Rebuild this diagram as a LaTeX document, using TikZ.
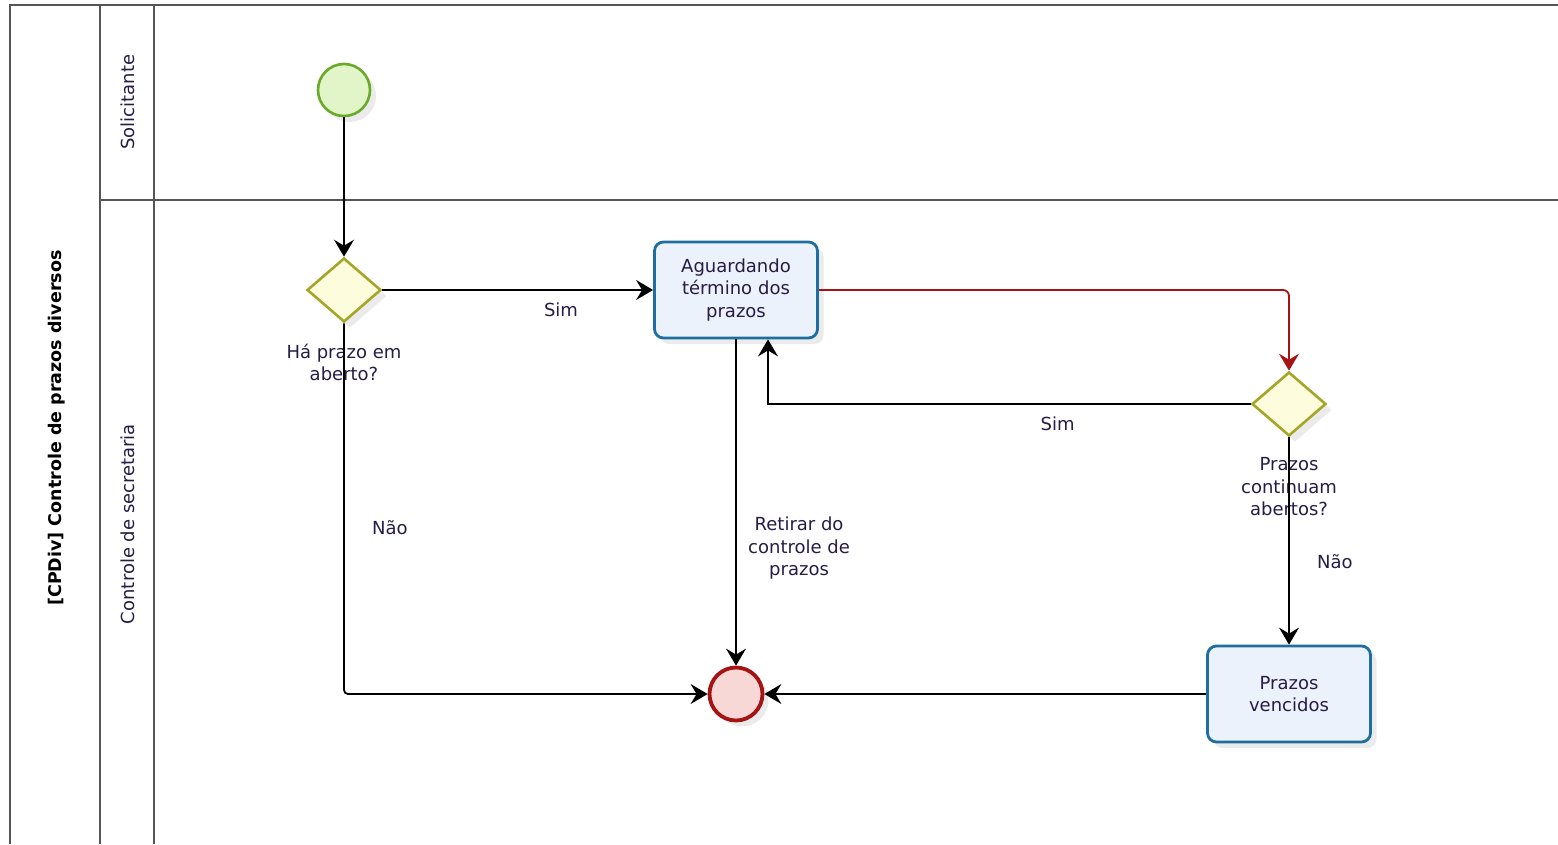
\documentclass[tikz,border=0pt]{standalone}
\usepackage{fontspec}
\setmainfont{DejaVu Sans}
\usetikzlibrary{arrows.meta,shapes.geometric,shadows}

\definecolor{lanegray}{RGB}{85,85,85}
\definecolor{txtcol}{RGB}{38,28,70}
\definecolor{startline}{RGB}{105,170,40}
\definecolor{startfill}{RGB}{225,245,200}
\definecolor{endline}{RGB}{165,20,20}
\definecolor{endfill}{RGB}{248,215,215}
\definecolor{gwline}{RGB}{165,165,40}
\definecolor{gwfill}{RGB}{253,253,222}
\definecolor{taskline}{RGB}{30,110,160}
\definecolor{taskfill}{RGB}{236,242,252}
\definecolor{redflow}{RGB}{165,20,20}

\begin{document}
\begin{tikzpicture}[x=1pt, y=-1pt,
	arrows={-Stealth[length=17pt,width=20pt,inset=6pt]},
	flow/.style={line width=1.8pt, black},
	lane/.style={line width=1.5pt, lanegray, -},
	txt/.style={text=txtcol, font=\fontsize{18}{22.5}\selectfont, align=center},
	shd/.style={drop shadow={opacity=0.16, shadow xshift=6pt, shadow yshift=-6pt}},
	startev/.style={circle, draw=startline, fill=startfill, line width=2.6pt,
		minimum size=52pt, inner sep=0, shd},
	endev/.style={circle, draw=endline, fill=endfill, line width=3.8pt,
		minimum size=53pt, inner sep=0, shd},
	gateway/.style={diamond, draw=gwline, fill=gwfill, line width=2.6pt,
		minimum width=74pt, minimum height=64pt, aspect=1.15, inner sep=0, shd},
	task/.style={rectangle, rounded corners=9pt, draw=taskline, fill=taskfill,
		line width=2.8pt, minimum width=163pt, minimum height=96pt,
		text width=150pt, txt, shd},
	gwlabel/.style={txt, label distance=17pt}]
	\useasboundingbox (0,0) rectangle (1558,844);

	% pool and lanes
	\draw[lane] (10,844) -- (10,5) -- (1558,5);
	\draw[lane] (100,5) -- (100,844);
	\draw[lane] (154,5) -- (154,844);
	\draw[lane] (100,200) -- (1558,200);
	\node[rotate=90, font=\bfseries\fontsize{17.5}{20}\selectfont] (pool) at (57,428)
		{[CPDiv] Controle de prazos diversos};
	\node[rotate=90, txt, font=\fontsize{18}{22}\selectfont] (solic) at (128,102) {Solicitante};
	\node[rotate=90, txt, font=\fontsize{18}{22}\selectfont] (secr) at (128,524) {Controle de secretaria};

	% events, gateways and tasks
	\node[startev] (S) at (344,90) {};
	\node[gateway, label={[gwlabel]below:Há prazo em\\aberto?}] (G1) at (344,290) {};
	\node[task] (T1) at (736,290) {Aguardando\\término dos\\prazos};
	\node[gateway, label={[gwlabel]below:Prazos\\continuam\\abertos?}] (G2) at (1289,404) {};
	\node[task] (T2) at (1289,694) {Prazos\\vencidos};
	\node[endev] (E) at (736,694) {};

	% sequence flows
	\draw[flow] (S) to (G1);
	\draw[flow] (G1) to node [txt, pos=.66, below=9pt] {Sim} (T1);
	\draw[flow, rounded corners=4pt] (G1) |- node [txt, pos=.275, right=24pt] {Não} (E);
	\draw[flow, redflow, rounded corners=6pt] (T1) -| (G2);
	\draw[flow] (G2) -| node [txt, pos=.2, below=9pt] {Sim} ([xshift=32pt]T1.south);
	\draw[flow] (T1) to node [txt, pos=.64, right=8pt] {Retirar do\\controle de\\prazos} (E);
	\draw[flow] (G2) to node [txt, pos=.6, right=24pt] {Não} (T2);
	\draw[flow] (T2) to (E);
\end{tikzpicture}
\end{document}
